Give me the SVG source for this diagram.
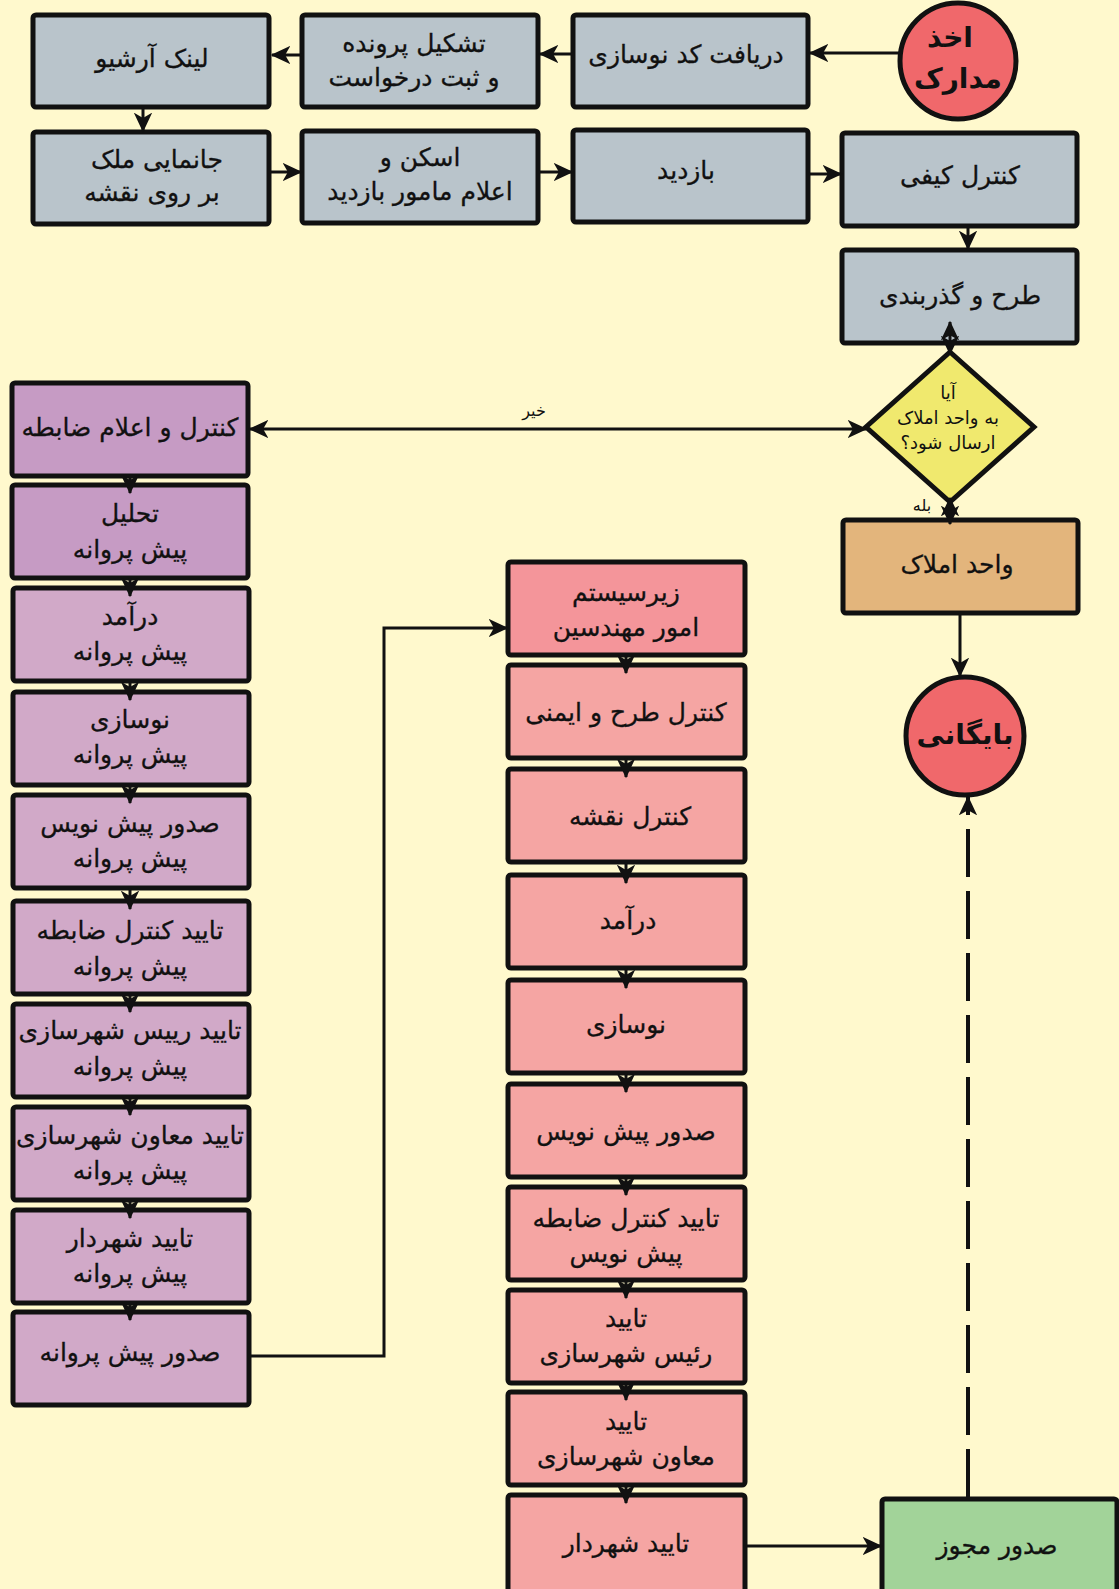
<svg xmlns="http://www.w3.org/2000/svg" width="1119" height="1589" viewBox="0 0 1119 1589">
<defs>
<style>
.bx{stroke:#111;stroke-width:5;}
.gray{fill:#B9C4CB;}
.p1{fill:#C69BC4;}
.p2{fill:#D1A9C8;}
.r1{fill:#F4959A;}
.r2{fill:#F5A5A3;}
.orange{fill:#E3B57C;}
.green{fill:#A2D399;}
.circ{fill:#F0686B;stroke:#111;stroke-width:5;}
.dia{fill:#F0E96E;stroke:#111;stroke-width:5;}
text{font-family:"DejaVu Sans","Noto Sans",sans-serif;fill:#111;text-anchor:middle;dominant-baseline:central;}
.t{font-size:25px;stroke:#111;stroke-width:0.3;}
.tb{font-size:28px;font-weight:bold;}
.ts{font-size:18px;}
.tl{font-size:16px;}
.c{fill:none;stroke:#111;stroke-width:3;}
.d{fill:none;stroke:#111;stroke-width:4;stroke-dasharray:48 14;}
</style>
<marker id="ar" markerUnits="userSpaceOnUse" markerWidth="21" markerHeight="21" viewBox="0 0 16 16" refX="14" refY="8" orient="auto-start-reverse">
<path d="M0,1 L15,8 L0,15 L4,8 Z" fill="#111"/>
</marker>
</defs>
<rect x="0" y="0" width="1119" height="1589" fill="#FFF9CD"/>

<g id="n_start"><circle class="circ" cx="958" cy="61" r="58"/><text class="tb" x="950" y="37">اخذ</text><text class="tb" x="958" y="78">مدارک</text></g>
<g id="n_code"><rect class="bx gray" x="573" y="15" width="235" height="92" rx="3"/><text class="t" x="686" y="54">دریافت کد نوسازی</text></g>
<g id="n_file"><rect class="bx gray" x="302" y="15" width="236" height="92" rx="3"/><text class="t" x="414" y="43">تشکیل پرونده</text><text class="t" x="414" y="77">و ثبت درخواست</text></g>
<g id="n_archive"><rect class="bx gray" x="33" y="15" width="236" height="92" rx="3"/><text class="t" x="152" y="58">لینک آرشیو</text></g>
<g id="n_locate"><rect class="bx gray" x="33" y="132" width="236" height="92" rx="3"/><text class="t" x="157" y="159">جانمایی ملک</text><text class="t" x="152" y="192">بر روی نقشه</text></g>
<g id="n_scan"><rect class="bx gray" x="302" y="131" width="236" height="92" rx="3"/><text class="t" x="420" y="157">اسکن و</text><text class="t" x="420" y="191">اعلام مامور بازدید</text></g>
<g id="n_visit"><rect class="bx gray" x="573" y="130" width="235" height="92" rx="3"/><text class="t" x="686" y="170">بازدید</text></g>
<g id="n_qc"><rect class="bx gray" x="842" y="133" width="235" height="93" rx="3"/><text class="t" x="960" y="175">کنترل کیفی</text></g>
<g id="n_plan"><rect class="bx gray" x="842" y="250" width="235" height="93" rx="3"/><text class="t" x="960" y="295">طرح و گذربندی</text></g>
<g id="n_decision"><polygon class="dia" points="950,352 1034,427 950,502 866,427"/><text class="ts" x="948" y="392">آیا</text><text class="ts" x="948" y="417">به واحد املاک</text><text class="ts" x="948" y="442">ارسال شود؟</text></g>
<g id="n_amlak"><rect class="bx orange" x="843" y="520" width="235" height="93" rx="3"/><text class="t" x="957" y="564">واحد املاک</text></g>
<g id="n_archive_end"><circle class="circ" cx="965" cy="736" r="59"/><text class="tb" x="965" y="734">بایگانی</text></g>

<g id="n_l1"><rect class="bx p1" x="12" y="383" width="236" height="93" rx="3"/><text class="t" x="130" y="427">کنترل و اعلام ضابطه</text></g>
<g id="n_l2"><rect class="bx p1" x="12" y="485" width="236" height="93" rx="3"/><text class="t" x="130" y="513">تحلیل</text><text class="t" x="130" y="549">پیش پروانه</text></g>
<g id="n_l3"><rect class="bx p2" x="13" y="588" width="236" height="93" rx="3"/><text class="t" x="130" y="616">درآمد</text><text class="t" x="130" y="651">پیش پروانه</text></g>
<g id="n_l4"><rect class="bx p2" x="13" y="692" width="236" height="93" rx="3"/><text class="t" x="130" y="719">نوسازی</text><text class="t" x="130" y="754">پیش پروانه</text></g>
<g id="n_l5"><rect class="bx p2" x="13" y="795" width="236" height="93" rx="3"/><text class="t" x="130" y="823">صدور پیش نویس</text><text class="t" x="130" y="858">پیش پروانه</text></g>
<g id="n_l6"><rect class="bx p2" x="13" y="901" width="236" height="93" rx="3"/><text class="t" x="130" y="930">تایید کنترل ضابطه</text><text class="t" x="130" y="966">پیش پروانه</text></g>
<g id="n_l7"><rect class="bx p2" x="13" y="1004" width="236" height="93" rx="3"/><text class="t" x="130" y="1030">تایید رییس شهرسازی</text><text class="t" x="130" y="1066">پیش پروانه</text></g>
<g id="n_l8"><rect class="bx p2" x="13" y="1107" width="236" height="93" rx="3"/><text class="t" x="130" y="1135">تایید معاون شهرسازی</text><text class="t" x="130" y="1170">پیش پروانه</text></g>
<g id="n_l9"><rect class="bx p2" x="13" y="1210" width="236" height="93" rx="3"/><text class="t" x="130" y="1238">تایید شهردار</text><text class="t" x="130" y="1273">پیش پروانه</text></g>
<g id="n_l10"><rect class="bx p2" x="13" y="1312" width="236" height="93" rx="3"/><text class="t" x="130" y="1352">صدور پیش پروانه</text></g>

<g id="n_m1"><rect class="bx r1" x="508" y="562" width="237" height="93" rx="3"/><text class="t" x="626" y="592">زیرسیستم</text><text class="t" x="626" y="627">امور مهندسین</text></g>
<g id="n_m2"><rect class="bx r2" x="508" y="665" width="237" height="93" rx="3"/><text class="t" x="626" y="712">کنترل طرح و ایمنی</text></g>
<g id="n_m3"><rect class="bx r2" x="508" y="769" width="237" height="93" rx="3"/><text class="t" x="630" y="816">کنترل نقشه</text></g>
<g id="n_m4"><rect class="bx r2" x="508" y="875" width="237" height="93" rx="3"/><text class="t" x="628" y="920">درآمد</text></g>
<g id="n_m5"><rect class="bx r2" x="508" y="980" width="237" height="93" rx="3"/><text class="t" x="626" y="1024">نوسازی</text></g>
<g id="n_m6"><rect class="bx r2" x="508" y="1084" width="237" height="93" rx="3"/><text class="t" x="626" y="1131">صدور پیش نویس</text></g>
<g id="n_m7"><rect class="bx r2" x="508" y="1187" width="237" height="93" rx="3"/><text class="t" x="626" y="1218">تایید کنترل ضابطه</text><text class="t" x="626" y="1253">پیش نویس</text></g>
<g id="n_m8"><rect class="bx r2" x="508" y="1290" width="237" height="93" rx="3"/><text class="t" x="626" y="1318">تایید</text><text class="t" x="626" y="1353">رئیس شهرسازی</text></g>
<g id="n_m9"><rect class="bx r2" x="508" y="1392" width="237" height="93" rx="3"/><text class="t" x="626" y="1421">تایید</text><text class="t" x="626" y="1456">معاون شهرسازی</text></g>
<g id="n_m10"><rect class="bx r2" x="508" y="1495" width="237" height="100" rx="3"/><text class="t" x="626" y="1543">تایید شهردار</text></g>

<g id="n_permit"><rect class="bx green" x="882" y="1499" width="235" height="100" rx="3"/><text class="t" x="997" y="1545">صدور مجوز</text></g>

<g id="connectors">
<line class="c" x1="900" y1="53" x2="810" y2="53" marker-end="url(#ar)"/>
<line class="c" x1="573" y1="54" x2="540" y2="54" marker-end="url(#ar)"/>
<line class="c" x1="302" y1="55" x2="272" y2="55" marker-end="url(#ar)"/>
<line class="c" x1="143" y1="108" x2="143" y2="131" marker-end="url(#ar)"/>
<line class="c" x1="270" y1="172" x2="301" y2="172" marker-end="url(#ar)"/>
<line class="c" x1="539" y1="172" x2="572" y2="172" marker-end="url(#ar)"/>
<line class="c" x1="809" y1="174" x2="841" y2="174" marker-end="url(#ar)"/>
<line class="c" x1="968" y1="228" x2="968" y2="249" marker-end="url(#ar)"/>
<line class="c" x1="950" y1="354" x2="950" y2="322" marker-end="url(#ar)" marker-start="url(#ar)"/>
<line class="c" x1="866" y1="429" x2="250" y2="429" marker-end="url(#ar)" marker-start="url(#ar)"/>
<line class="c" x1="950" y1="498" x2="950" y2="524" marker-end="url(#ar)" marker-start="url(#ar)"/>
<line class="c" x1="960" y1="615" x2="960" y2="676" marker-end="url(#ar)"/>
<line class="d" x1="968" y1="1497" x2="968" y2="797" marker-end="url(#ar)"/>
<line class="c" x1="747" y1="1546" x2="881" y2="1546" marker-end="url(#ar)"/>
<polyline class="c" points="250,1356 384,1356 384,628 507,628" marker-end="url(#ar)"/>
<g>
<line class="c" x1="130" y1="476" x2="130" y2="493" marker-end="url(#ar)"/>
<line class="c" x1="130" y1="578" x2="130" y2="596" marker-end="url(#ar)"/>
<line class="c" x1="130" y1="681" x2="130" y2="700" marker-end="url(#ar)"/>
<line class="c" x1="130" y1="785" x2="130" y2="803" marker-end="url(#ar)"/>
<line class="c" x1="130" y1="888" x2="130" y2="909" marker-end="url(#ar)"/>
<line class="c" x1="130" y1="994" x2="130" y2="1012" marker-end="url(#ar)"/>
<line class="c" x1="130" y1="1097" x2="130" y2="1115" marker-end="url(#ar)"/>
<line class="c" x1="130" y1="1200" x2="130" y2="1218" marker-end="url(#ar)"/>
<line class="c" x1="130" y1="1303" x2="130" y2="1320" marker-end="url(#ar)"/>
</g>
<g>
<line class="c" x1="626" y1="655" x2="626" y2="673" marker-end="url(#ar)"/>
<line class="c" x1="626" y1="758" x2="626" y2="777" marker-end="url(#ar)"/>
<line class="c" x1="626" y1="862" x2="626" y2="883" marker-end="url(#ar)"/>
<line class="c" x1="626" y1="968" x2="626" y2="988" marker-end="url(#ar)"/>
<line class="c" x1="626" y1="1073" x2="626" y2="1092" marker-end="url(#ar)"/>
<line class="c" x1="626" y1="1177" x2="626" y2="1195" marker-end="url(#ar)"/>
<line class="c" x1="626" y1="1280" x2="626" y2="1298" marker-end="url(#ar)"/>
<line class="c" x1="626" y1="1383" x2="626" y2="1400" marker-end="url(#ar)"/>
<line class="c" x1="626" y1="1485" x2="626" y2="1503" marker-end="url(#ar)"/>
</g>
<text class="tl" x="534" y="410">خیر</text>
<text class="tl" x="922" y="505">بله</text>
</g>
</svg>
